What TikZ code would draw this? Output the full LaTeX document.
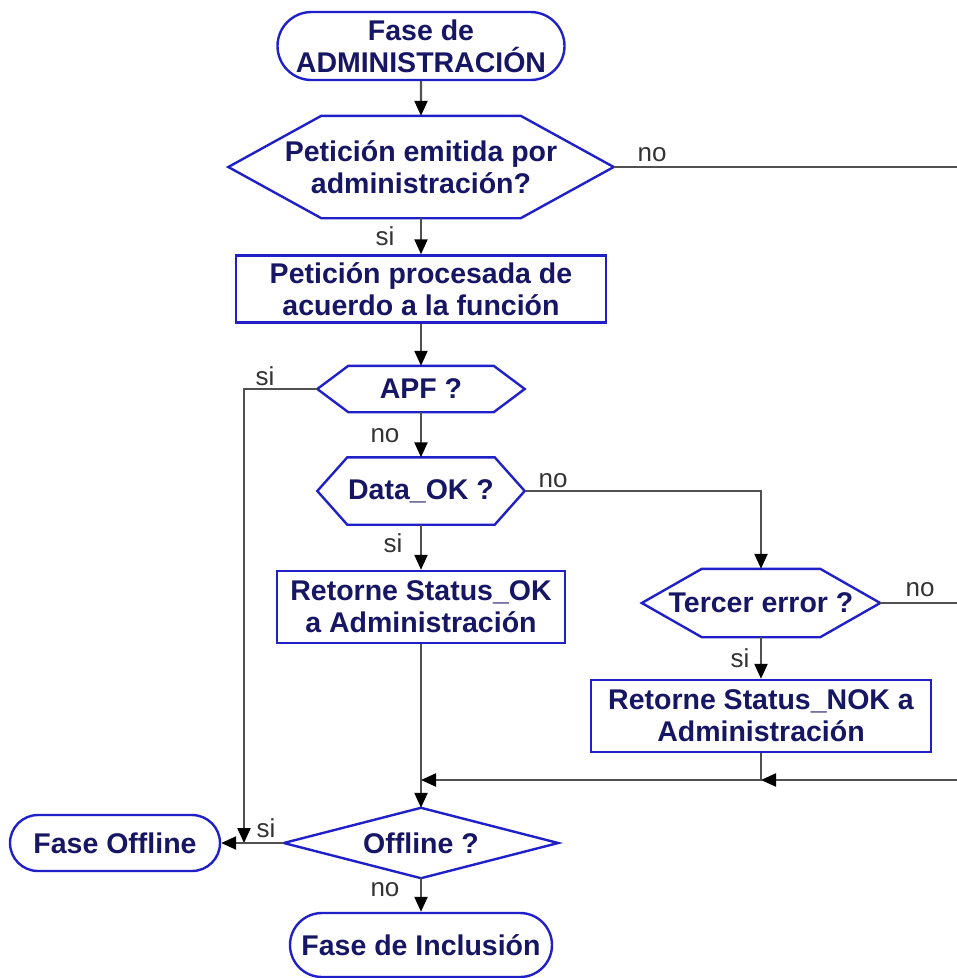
\documentclass[tikz,border=0pt]{standalone}
\usepackage{fontspec}
\setmainfont{Liberation Sans}
\usetikzlibrary{arrows.meta,shapes.misc}

\definecolor{shapeblue}{RGB}{32,32,200}
\definecolor{textnavy}{RGB}{22,22,100}
\definecolor{linegray}{RGB}{80,80,80}

% hexagon outline round a plain node: name, inset of the slanted sides
\newcommand{\hexa}[2]{%
  \draw[shapeblue,line width=2.4pt,line join=miter]
    (#1.west) -- ([xshift=#2pt]#1.north west) -- ([xshift=-#2pt]#1.north east)
    -- (#1.east) -- ([xshift=-#2pt]#1.south east) -- ([xshift=#2pt]#1.south west) -- cycle;}

\begin{document}
\begin{tikzpicture}[x=1pt,y=-1pt,
    every node/.style={inner sep=0pt},
    txt/.style={text=textnavy,font=\fontsize{28.5}{32}\selectfont\bfseries,align=center},
    term/.style={txt,rounded rectangle,draw=shapeblue,line width=2.4pt},
    proc/.style={txt,rectangle,draw=shapeblue,line width=2.4pt},
    test/.style={txt,rectangle},
    lbl/.style={text=black!80,font=\fontsize{26}{26}\selectfont},
    conn/.style={draw=linegray,line width=2.2pt},
    flow/.style={conn,-{Triangle[length=15pt,width=13pt,color=black]}}]
  \useasboundingbox (0,0) rectangle (957,978);

  % boxes
  \node[term,minimum width=287pt,minimum height=68pt] (start) at (421,46) {Fase de\\ADMINISTRACIÓN};
  \node[test,minimum width=385pt,minimum height=102pt] (q1) at (421,167) {Petición emitida por\\administración?};
  \node[proc,minimum width=370pt,minimum height=67pt] (proc) at (421,289) {Petición procesada de\\acuerdo a la función};
  \node[test,minimum width=207pt,minimum height=46pt] (apf) at (421,389) {APF ?};
  \node[test,minimum width=207pt,minimum height=67pt] (dok) at (421,491) {Data\_OK ?};
  \node[proc,minimum width=288pt,minimum height=72pt] (okbox) at (421,607) {Retorne Status\_OK\\a Administración};
  \node[test,minimum width=238pt,minimum height=68pt] (terc) at (761,603) {Tercer error ?};
  \node[proc,minimum width=340pt,minimum height=72pt] (nokbox) at (761,716) {Retorne Status\_NOK a\\Administración};
  \node[test,minimum width=274pt,minimum height=70pt] (offl) at (421,843) {Offline ?};
  \node[term,minimum width=210pt,minimum height=56pt] (foff) at (115,843) {Fase Offline};
  \node[term,minimum width=262pt,minimum height=64pt] (incl) at (421,945) {Fase de Inclusión};

  \hexa{q1}{93}
  \hexa{apf}{31}
  \hexa{dok}{30}
  \hexa{terc}{60}
  \draw[shapeblue,line width=2.4pt] (offl.west) -- (offl.north) -- (offl.east) -- (offl.south) -- cycle;

  % free ends and joins
  \coordinate (edge1) at (957,167);
  \coordinate (edge2) at (957,603);
  \coordinate (edge3) at (957,780);
  \coordinate (join) at (421,780);
  \coordinate (nokjoin) at (761,780);
  \coordinate (offjoin) at (244,843);

  % connectors
  \draw[flow] (start) -- (q1);
  \draw[conn] (q1.east) -- (edge1);
  \draw[flow] (q1) -- (proc);
  \draw[flow] (proc) -- (apf);
  \draw[flow] (apf.west) -| (offjoin);
  \draw[flow] (apf) -- (dok);
  \draw[flow] (dok.east) -| (terc.north);
  \draw[flow] (dok) -- (okbox);
  \draw[flow] (okbox) -- (offl);
  \draw[conn] (terc.east) -- (edge2);
  \draw[flow] (terc) -- (nokbox);
  \draw[flow] (nokbox.south) |- (join);
  \draw[flow] (edge3) -- (nokjoin);
  \draw[flow] (offl.west) -- (foff.east);
  \draw[flow] (offl) -- (incl);

  % branch labels
  \node[lbl] (l1) at (652,155) {no};
  \node[lbl] (l2) at (385,236) {si};
  \node[lbl] (l3) at (265,376) {si};
  \node[lbl] (l4) at (385,436) {no};
  \node[lbl] (l5) at (553,481) {no};
  \node[lbl] (l6) at (393,543) {si};
  \node[lbl] (l7) at (920,590) {no};
  \node[lbl] (l8) at (740,658) {si};
  \node[lbl] (l9) at (266,828) {si};
  \node[lbl] (l10) at (385,890) {no};
\end{tikzpicture}
\end{document}
